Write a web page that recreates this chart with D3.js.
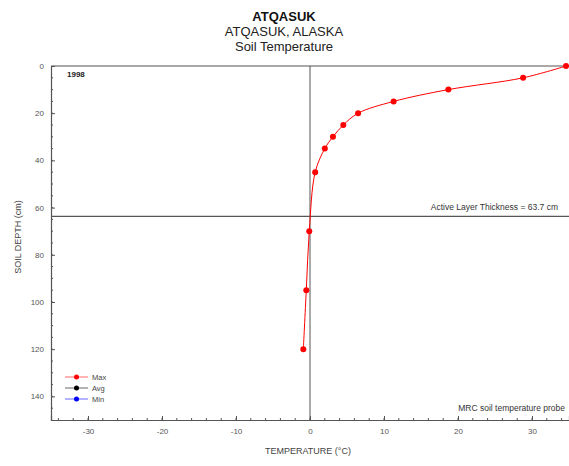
<!DOCTYPE html>
<html><head><meta charset="utf-8">
<script src="https://cdn.jsdelivr.net/npm/d3@7"></script>
<style>body{margin:0;background:#fff}svg{display:block;font-family:Arial,"Liberation Sans",sans-serif}</style>
</head><body>
<svg id="c" width="569" height="466"></svg>
<script>
const depths = [0, 5, 10, 15, 20, 25, 30, 35, 45, 70, 95, 120];
const maxTemps = [34.6, 28.8, 18.7, 11.3, 6.5, 4.5, 3.1, 2.0, 0.7, -0.1, -0.5, -0.9];
const xTicks = [-30, -20, -10, 0, 10, 20, 30];
const yTicks = [0, 20, 40, 60, 80, 100, 120, 140];
const activeLayer = 63.7;
const legendItems = ["Max", "Avg", "Min"];
const legendColors = ["#ff0000", "#000000", "#0000ff"];
const titles = ["ATQASUK", "ATQASUK, ALASKA", "Soil Temperature"];

const svg = d3.select("#c");
const x = d3.scaleLinear().domain([-35, 35]).range([51, 569]);
const y = d3.scaleLinear().domain([0, 150]).range([66, 420]);

// titles
svg.append("text").attr("x", 284).attr("y", 21).attr("text-anchor", "middle")
  .attr("font-size", 13).attr("font-weight", "bold").attr("fill", "#111").text(titles[0]);
svg.append("text").attr("x", 284).attr("y", 36).attr("text-anchor", "middle")
  .attr("font-size", 13).attr("fill", "#222").text(titles[1]);
svg.append("text").attr("x", 284).attr("y", 51).attr("text-anchor", "middle")
  .attr("font-size", 13).attr("fill", "#222").text(titles[2]);

// zero line and active layer line
svg.append("line").attr("x1", x(0)).attr("x2", x(0)).attr("y1", y(0)).attr("y2", y(150))
  .attr("stroke", "#aaa").attr("stroke-width", 2);
svg.append("line").attr("x1", x(-35)).attr("x2", x(35)).attr("y1", y(activeLayer)).attr("y2", y(activeLayer))
  .attr("stroke", "#555").attr("stroke-width", 1.2);

// frame
svg.append("line").attr("x1", x(-35)).attr("x2", x(35)).attr("y1", y(0)).attr("y2", y(0)).attr("stroke", "#555").attr("stroke-width", 1.2);

// axes
const fmt = d => String(d);
const xAxis = d3.axisBottom(x).tickValues(xTicks).tickSize(-4).tickPadding(8).tickFormat(fmt);
const gx = svg.append("g").attr("transform", `translate(0,${y(150)})`).call(xAxis);
const xMinor = d3.range(-34, 35, 2);
gx.selectAll(".minor").data(xMinor).enter().append("line").attr("class", "minor")
  .attr("x1", d => x(d)).attr("x2", d => x(d)).attr("y1", 0).attr("y2", -2).attr("stroke", "#555");

const yAxis = d3.axisLeft(y).tickValues(yTicks).tickSize(-4).tickPadding(7).tickFormat(fmt);
const gy = svg.append("g").attr("transform", `translate(${x(-35)},0)`).call(yAxis);
const yMinor = d3.range(5, 150, 5);
gy.selectAll(".minor").data(yMinor).enter().append("line").attr("class", "minor")
  .attr("y1", d => y(d)).attr("y2", d => y(d)).attr("x1", 0).attr("x2", 2).attr("stroke", "#555");

[gx, gy].forEach(g => {
  g.select(".domain").attr("stroke", "#555").attr("stroke-width", 1.2);
  g.selectAll(".tick line").attr("stroke", "#555");
  g.selectAll(".tick text").attr("font-size", 8).attr("fill", "#555").attr("font-family", "Arial, Liberation Sans, sans-serif");
});

// axis titles
svg.append("text").attr("x", 308).attr("y", 454).attr("text-anchor", "middle")
  .attr("font-size", 9).attr("fill", "#444").text("TEMPERATURE (°C)");
svg.append("text").attr("transform", "translate(21,237) rotate(-90)").attr("text-anchor", "middle")
  .attr("font-size", 9).attr("fill", "#444").text("SOIL DEPTH (cm)");

// annotations
svg.append("text").attr("x", 67).attr("y", 77).attr("font-size", 8).attr("font-weight", "bold").attr("fill", "#222").text("1998");
svg.append("text").attr("x", 558).attr("y", 210).attr("text-anchor", "end").attr("font-size", 8.5).attr("fill", "#333")
  .text("Active Layer Thickness = 63.7 cm");
svg.append("text").attr("x", 565).attr("y", 411).attr("text-anchor", "end").attr("font-size", 8.5).attr("fill", "#333")
  .text("MRC soil temperature probe");

// data line
const pts = depths.map((d, i) => [maxTemps[i], d]);
svg.append("path").datum(pts)
  .attr("d", d3.line().x(d => x(d[0])).y(d => y(d[1])).curve(d3.curveCatmullRom))
  .attr("fill", "none").attr("stroke", "#ff0000").attr("stroke-width", 1);
svg.selectAll(".pt").data(pts).enter().append("circle").attr("class", "pt")
  .attr("cx", d => x(d[0])).attr("cy", d => y(d[1])).attr("r", 3).attr("fill", "#ff0000");

// legend
const lg = svg.append("g");
legendItems.forEach((name, i) => {
  const ly = 377 + i * 11;
  lg.append("line").attr("x1", 65).attr("x2", 88).attr("y1", ly).attr("y2", ly)
    .attr("stroke", legendColors[i]).attr("stroke-opacity", 0.6);
  lg.append("circle").attr("cx", 76.5).attr("cy", ly).attr("r", 2.5).attr("fill", legendColors[i]);
  lg.append("text").attr("x", 92).attr("y", ly + 3).attr("font-size", 7.5).attr("fill", "#444").text(name);
});
</script>
</body></html>
